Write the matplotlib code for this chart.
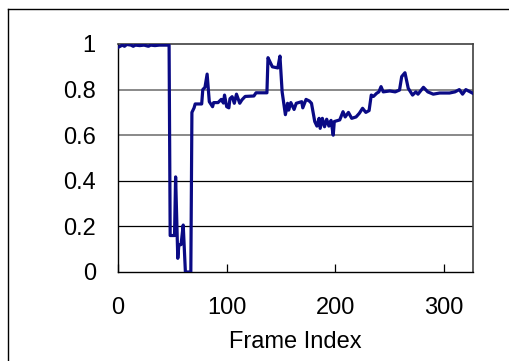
import matplotlib
matplotlib.use("Agg")
import matplotlib.pyplot as plt
from matplotlib.lines import Line2D

# Similarity score per frame
frames = [0, 2, 4, 6, 8, 12, 14, 16, 20, 24, 28, 30, 34, 38, 42, 47,
          48, 52, 53, 55, 56, 58, 60, 62, 67, 68, 70, 71, 77, 78, 80, 82,
          84, 87, 88, 92, 95, 97, 98, 100, 102, 103, 105, 107, 109, 112,
          114, 117, 125, 127, 137, 138, 140, 142, 147, 149, 151, 154, 156,
          157, 159, 162, 164, 169, 170, 173, 176, 178, 181, 183, 185, 186,
          188, 190, 192, 194, 196, 198, 199, 204, 207, 209, 212, 215, 219,
          222, 225, 228, 231, 233, 235, 238, 240, 242, 244, 250, 255, 259,
          261, 264, 267, 271, 274, 276, 281, 285, 290, 296, 305, 310, 314,
          317, 320, 324, 326]
scores = [0.985, 0.99, 0.995, 0.99, 0.998, 0.995, 0.99, 0.995, 0.993,
          0.995, 0.99, 0.995, 0.993, 0.995, 0.995, 0.995,
          0.16, 0.16, 0.417, 0.06, 0.12, 0.12, 0.206, 0.0, 0.0, 0.70, 0.72,
          0.737, 0.737, 0.80, 0.81, 0.868, 0.747, 0.725, 0.743, 0.743, 0.757,
          0.741, 0.776, 0.725, 0.72, 0.76, 0.769, 0.74, 0.78, 0.74, 0.755,
          0.77, 0.772, 0.786, 0.786, 0.94, 0.92, 0.90, 0.895, 0.947, 0.79,
          0.69, 0.74, 0.71, 0.743, 0.713, 0.74, 0.747, 0.72, 0.757, 0.75,
          0.74, 0.66, 0.64, 0.674, 0.63, 0.674, 0.637, 0.67, 0.64, 0.665,
          0.60, 0.66, 0.667, 0.703, 0.68, 0.70, 0.674, 0.68, 0.696, 0.718,
          0.70, 0.708, 0.776, 0.77, 0.784, 0.79, 0.813, 0.79, 0.794, 0.79,
          0.798, 0.857, 0.874, 0.806, 0.776, 0.79, 0.78, 0.81, 0.79, 0.78,
          0.785, 0.785, 0.79, 0.80, 0.78, 0.80, 0.79, 0.785]

x_ticks = [0, 100, 200, 300]
y_ticks = [0, 0.2, 0.4, 0.6, 0.8, 1.0]
y_tick_labels = ["0", "0.2", "0.4", "0.6", "0.8", "1"]

plt.rcParams["font.family"] = ["Liberation Sans", "DejaVu Sans"]

W, H = 509, 361
fig = plt.figure(figsize=(W / 100, H / 100), dpi=100)
ax = fig.add_axes([118 / W, 1 - 272 / H, (473 - 118) / W, (272 - 44) / H])

# horizontal reference lines
for v in [0.2, 0.4]:
    ax.axhline(v, color="black", lw=0.9, zorder=1)
for v in [0.6, 0.8]:
    ax.axhline(v, color="#808080", lw=1.3, zorder=1)

ax.plot(frames, scores, color="#0a0a85", lw=2.3, zorder=3)

ax.set_xlim(0, 326.6)
ax.set_ylim(0, 1)
ax.set_xticks(x_ticks)
ax.set_yticks(y_ticks)
ax.set_yticklabels(y_tick_labels)
ax.tick_params(axis="x", direction="in", length=6, width=0.9, pad=18,
               labelsize=17, colors="black")
ax.tick_params(axis="y", length=0, pad=16, labelsize=17)
ax.set_xlabel("Frame Index", fontsize=17, labelpad=9)

for side in ["left", "bottom"]:
    ax.spines[side].set_color("black")
    ax.spines[side].set_linewidth(1.0)
for side in ["top", "right"]:
    ax.spines[side].set_color("#404040")
    ax.spines[side].set_linewidth(1.2)

# outer frame of the figure panel
fig.add_artist(Line2D([7.5 / W, 7.5 / W], [0, 1 - 9 / H], transform=fig.transFigure,
                      color="black", lw=1.0))
fig.add_artist(Line2D([7.5 / W, 1], [1 - 9 / H, 1 - 9 / H], transform=fig.transFigure,
                      color="black", lw=1.0))

fig.savefig("out.png", dpi=100)
